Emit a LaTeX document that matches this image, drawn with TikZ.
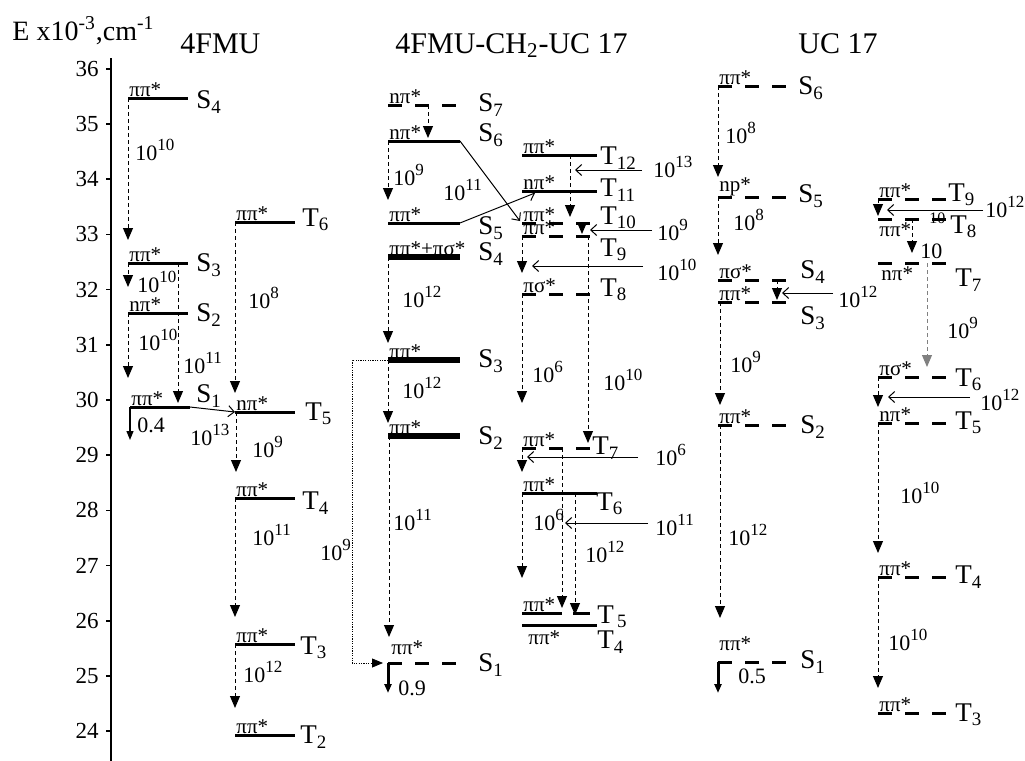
\documentclass[tikz,border=0pt]{standalone}
\usepackage{fontspec}
\setmainfont{Liberation Serif}
\usetikzlibrary{arrows.meta}
\newcommand{\rate}[1]{10\raisebox{0.9ex}{\fontsize{8.5}{10}\selectfont #1}}
\newcommand{\Sst}[1]{S\textsubscript{#1}}
\newcommand{\Tst}[1]{T\textsubscript{#1}}
% level: [style]{name}{x left}{x right}{y}{orbital}
\newcommand{\lvl}[6][lev]{%
  \coordinate (#2) at (#3,#5);
  \coordinate (#2r) at (#4,#5);
  \draw[#1] (#2) -- (#2r);
  \node[orb] (#2o) at (#2) {#6};}

\begin{document}
\begin{tikzpicture}[x=0.5pt,y=-0.5pt,
lev/.style={line width=1.5pt},
bold lev/.style={line width=2.8pt},
dlev/.style={line width=1.5pt,dash pattern=on 7pt off 6.5pt},
dec/.style={line width=0.5pt,dash pattern=on 2pt off 1.5pt,-{Triangle[length=6pt,width=5pt]}},
isc/.style={line width=0.5pt,-{Straight Barb[length=3pt,width=5.5pt]}},
qy/.style={-{Triangle[length=4.5pt,width=3.5pt]}},
dotl/.style={line width=0.4pt,dash pattern=on 0.6pt off 0.6pt,-{Triangle[length=5.5pt,width=4.5pt]},shorten >=2.5pt},
orb/.style={font=\fontsize{10.5}{12}\selectfont,inner sep=0.5pt,anchor=south west},
st/.style={font=\fontsize{13.5}{15}\selectfont,inner sep=0pt,anchor=west},
rt/.style={font=\fontsize{11}{12}\selectfont,inner sep=0pt,anchor=base west},
ttl/.style={font=\fontsize{15}{18}\selectfont,inner sep=0pt,anchor=base west}]
\useasboundingbox (0,0) rectangle (1025,761);

% energy axis
\coordinate (axtop) at (111,58);
\coordinate (axbot) at (111,761);
\draw[line width=0.8pt] (axtop) -- (axbot);
\foreach \e in {24,...,36}{
  \coordinate (tk\e) at (111,{400-55.2*(\e-30)});
  \draw[line width=0.8pt] (tk\e) -- ++(-5,0);
  \node[anchor=east,inner sep=0pt,font=\fontsize{11.5}{13}\selectfont] (n\e) at ([xshift=-6pt]tk\e) {\e};
}
\node[ttl,font=\fontsize{14}{16}\selectfont] (eunit) at (12,40) {E x10\textsuperscript{-3},cm\textsuperscript{-1}};
\node[ttl] (t1) at (180,53) {4FMU};
\node[ttl] (t2) at (395,53) {4FMU-CH\textsubscript{2}-UC 17};
\node[ttl] (t3) at (798,53) {UC 17};

% 4FMU
\lvl{aS4}{128}{188}{98}{ππ*}
\lvl{aS3}{128}{188}{263}{ππ*}
\lvl{aS2}{128}{188}{313}{nπ*}
\lvl{aS1}{130}{190}{407}{ππ*}
\lvl{aT6}{235}{295}{222}{ππ*}
\lvl{aT5}{235}{295}{412}{nπ*}
\lvl{aT4}{235}{295}{498}{ππ*}
\lvl{aT3}{235}{295}{644}{ππ*}
\lvl{aT2}{235}{295}{735}{ππ*}
\node[st] (laS4) at (196,102) {\Sst{4}};
\node[st] (laS3) at (196,265) {\Sst{3}};
\node[st] (laS2) at (196,315) {\Sst{2}};
\node[st] (laS1) at (196,396) {\Sst{1}};
\node[st] (laT6) at (302,220) {\Tst{6}};
\node[st] (laT5) at (305,414) {\Tst{5}};
\node[st] (laT4) at (302,503) {\Tst{4}};
\node[st] (laT3) at (300,648) {\Tst{3}};
\node[st] (laT2) at (300,737) {\Tst{2}};
\coordinate (k1) at (128,240);
\coordinate (k2) at (128,287);
\coordinate (k3) at (178,403);
\coordinate (k4) at (128,378);
\coordinate (k5) at (130,440);
\coordinate (k6) at (235,393);
\coordinate (k7) at (236,472);
\coordinate (k8) at (235,617);
\coordinate (k9) at (235,708);
\draw[dec] (aS4) -- (k1);
\draw[dec] (aS3) -- (k2);
\draw[dec] (aS3 -| k3) -- (k3);
\draw[dec] (aS2) -- (k4);
\draw[qy,line width=0.6pt] (aS1) -- (k5);
\draw[isc] (aS1r) -- (aT5);
\draw[dec] (aT6) -- (k6);
\draw[dec] (aT5 -| k7) -- (k7);
\draw[dec] (aT4) -- (k8);
\draw[dec] (aT3) -- (k9);
\node[rt] (r1) at (135,160) {\rate{10}};
\node[rt] (r2) at (137,292) {\rate{10}};
\node[rt] (r3) at (183,373) {\rate{11}};
\node[rt] (r4) at (138,350) {\rate{10}};
\node[rt] (r5) at (137,432) {0.4};
\node[rt] (r6) at (190,445) {\rate{13}};
\node[rt] (r7) at (248,308) {\rate{8}};
\node[rt] (r8) at (252,457) {\rate{9}};
\node[rt] (r9) at (252,545) {\rate{11}};
\node[rt] (r10) at (243,682) {\rate{12}};
\node[rt] (r11) at (320,560) {\rate{9}};

% 4FMU-CH2-UC 17
\lvl[dlev]{bS7}{388}{457}{105}{nπ*}
\lvl{bS6}{388}{460}{141}{nπ*}
\lvl{bS5}{388}{460}{223}{ππ*}
\lvl[bold lev]{bS4}{388}{460}{257}{ππ*+πσ*}
\lvl[bold lev]{bS3}{388}{460}{360}{ππ*}
\lvl[bold lev]{bS2}{388}{460}{436}{ππ*}
\lvl[dlev]{bS1}{388}{457}{663}{}
\lvl{bT12}{522}{597}{155}{ππ*}
\lvl{bT11}{522}{597}{191}{nπ*}
\lvl[dlev]{bT10}{522}{592}{223}{ππ*}
\lvl[dlev]{bT9}{522}{592}{236}{ππ*}
\lvl[dlev]{bT8}{522}{590}{294}{πσ*}
\lvl[dlev]{bT7}{522}{592}{448}{ππ*}
\lvl{bT6}{522}{597}{493}{ππ*}
\lvl[lev,dash pattern=on 20pt off 5.5pt on 8.5pt off 10pt]{bT5}{522}{590}{613}{ππ*}
\lvl{bT4}{522}{597}{625}{}
\node[orb] (bS1o2) at (390,656) {ππ*};
\node[orb,anchor=north west] (bT4o2) at (527,629) {ππ*};
\node[st] (lbS7) at (478,105) {\Sst{7}};
\node[st] (lbS6) at (478,135) {\Sst{6}};
\node[st] (lbS5) at (478,228) {\Sst{5}};
\node[st] (lbS4) at (478,254) {\Sst{4}};
\node[st] (lbS3) at (478,361) {\Sst{3}};
\node[st] (lbS2) at (478,438) {\Sst{2}};
\node[st] (lbS1) at (478,665) {\Sst{1}};
\node[st] (lbT12) at (600,158) {\Tst{12}};
\node[st] (lbT11) at (600,190) {\Tst{11}};
\node[st] (lbT10) at (600,218) {\Tst{10}};
\node[st] (lbT9) at (600,250) {\Tst{9}};
\node[st] (lbT8) at (600,290) {\Tst{8}};
\node[st] (lbT7) at (592,448) {\Tst{7}};
\node[st] (lbT6) at (596,504) {\Tst{6}};
\node[st] (lbT5) at (597,617) {T\textsubscript{\,5}};
\node[st] (lbT4) at (597,642) {\Tst{4}};
\coordinate (k10) at (428,138);
\coordinate (k11) at (388,200);
\coordinate (k12) at (388,343);
\coordinate (k13) at (388,423);
\coordinate (k14) at (389,637);
\coordinate (k15) at (388,693);
\coordinate (k16) at (570,217);
\coordinate (k17) at (582,234);
\coordinate (k18) at (522,273);
\coordinate (k19) at (588,443);
\coordinate (k20) at (522,403);
\coordinate (k21) at (522,472);
\coordinate (k22) at (562,608);
\coordinate (k23) at (522,578);
\coordinate (k24) at (575,615);
\coordinate (m1) at (520,221);
\coordinate (m2) at (535,193);
\coordinate (dt) at (352,360);
\draw[dec] (bS7 -| k10) -- (k10);
\draw[dec] (bS6) -- (k11);
\draw[isc] (bS6r) -- (m1);
\draw[isc] (bS5r) -- (m2);
\draw[dec] (bS4) -- (k12);
\draw[dec] (bS3) -- (k13);
\draw[dec] (bS2 -| k14) -- (k14);
\draw[dotl] (bS3) -- (dt) |- (bS1);
\draw[qy,line width=1.5pt] (bS1) -- (k15);
\draw[dec] (bT12 -| k16) -- (k16);
\draw[dec] (bT10 -| k17) -- (k17);
\draw[dec] (bT9) -- (k18);
\draw[dec] (bT9 -| k19) -- (k19);
\draw[dec] (bT8) -- (k20);
\draw[dec] (bT7) -- (k21);
\draw[dec] (bT7 -| k22) -- (k22);
\draw[dec] (bT6) -- (k23);
\draw[dec] (bT6 -| k24) -- (k24);
\coordinate (h1) at (642,170);
\coordinate (h1e) at (575,170);
\coordinate (h2) at (652,230);
\coordinate (h2e) at (590,230);
\coordinate (h3) at (643,266);
\coordinate (h3e) at (532,266);
\coordinate (h4) at (638,457);
\coordinate (h4e) at (527,457);
\coordinate (h5) at (648,523);
\coordinate (h5e) at (565,523);
\draw[isc] (h1) -- (h1e);
\draw[isc] (h2) -- (h2e);
\draw[isc] (h3) -- (h3e);
\draw[isc] (h4) -- (h4e);
\draw[isc] (h5) -- (h5e);
\node[rt] (r12) at (393,185) {\rate{9}};
\node[rt] (r13) at (443,200) {\rate{11}};
\node[rt] (r14) at (402,307) {\rate{12}};
\node[rt] (r15) at (402,398) {\rate{12}};
\node[rt] (r16) at (393,530) {\rate{11}};
\node[rt] (r17) at (398,695) {0.9};
\node[rt] (r18) at (653,177) {\rate{13}};
\node[rt] (r19) at (657,240) {\rate{9}};
\node[rt] (r20) at (657,280) {\rate{10}};
\node[rt] (r21) at (603,390) {\rate{10}};
\node[rt] (r22) at (532,382) {\rate{6}};
\node[rt] (r23) at (655,465) {\rate{6}};
\node[rt] (r24) at (533,530) {\rate{6}};
\node[rt] (r25) at (585,562) {\rate{12}};
\node[rt] (r26) at (655,535) {\rate{11}};

% UC 17
\lvl[dlev]{cS6}{718}{787}{86}{ππ*}
\lvl[dlev]{cS5}{718}{787}{197}{np*}
\lvl[dlev]{cS4}{718}{787}{280}{πσ*}
\lvl[dlev]{cS3}{718}{787}{302}{ππ*}
\lvl[dlev]{cS2}{718}{787}{425}{ππ*}
\lvl[dlev]{cS1}{718}{787}{662}{}
\lvl[dlev]{cT9}{878}{948}{199}{ππ*}
\lvl[dlev]{cT8}{878}{948}{219}{}
\lvl[dlev]{cT7}{878}{948}{263}{}
\lvl[dlev]{cT6}{878}{948}{377}{πσ*}
\lvl[dlev]{cT5}{878}{948}{423}{nπ*}
\lvl[dlev]{cT4}{878}{948}{577}{ππ*}
\lvl[dlev]{cT3}{878}{948}{713}{ππ*}
\node[orb] (cS1o2) at (718,652) {ππ*};
\node[orb,anchor=north west] (cT8o2) at (878,221) {ππ*};
\node[orb,anchor=north west] (cT7o2) at (880,265) {nπ*};
\node[st] (lcS6) at (798,88) {\Sst{6}};
\node[st] (lcS5) at (798,196) {\Sst{5}};
\node[st] (lcS4) at (800,272) {\Sst{4}};
\node[st] (lcS3) at (800,318) {\Sst{3}};
\node[st] (lcS2) at (800,427) {\Sst{2}};
\node[st] (lcS1) at (800,662) {\Sst{1}};
\node[st] (lcT9) at (948,195) {\Tst{9}};
\node[st] (lcT8) at (950,227) {\Tst{8}};
\node[st] (lcT7) at (955,280) {\Tst{7}};
\node[st] (lcT6) at (955,380) {\Tst{6}};
\node[st] (lcT5) at (955,423) {\Tst{5}};
\node[st] (lcT4) at (955,577) {\Tst{4}};
\node[st] (lcT3) at (955,715) {\Tst{3}};
\coordinate (k25) at (718,177);
\coordinate (k26) at (718,255);
\coordinate (k27) at (777,300);
\coordinate (k28) at (720,405);
\coordinate (k29) at (720,618);
\coordinate (k30) at (718,693);
\coordinate (k31) at (878,216);
\coordinate (k32) at (912,253);
\coordinate (k33) at (927,367);
\coordinate (k34) at (878,407);
\coordinate (k35) at (878,553);
\coordinate (k36) at (878,688);
\draw[dec] (cS6) -- (k25);
\draw[dec] (cS5) -- (k26);
\draw[dec] (cS4 -| k27) -- (k27);
\draw[dec] (cS3 -| k28) -- (k28);
\draw[dec] (cS2 -| k29) -- (k29);
\draw[qy,line width=1.5pt] (cS1) -- (k30);
\draw[dec] (cT9) -- (k31);
\draw[dec] (cT8 -| k32) -- (k32);
\draw[dec,gray] (cT7 -| k33) -- (k33);
\draw[dec] (cT6) -- (k34);
\draw[dec] (cT5) -- (k35);
\draw[dec] (cT4) -- (k36);
\coordinate (h6) at (833,293);
\coordinate (h6e) at (782,293);
\coordinate (h7) at (983,210);
\coordinate (h7e) at (887,210);
\coordinate (h8) at (970,397);
\coordinate (h8e) at (888,397);
\draw[isc] (h6) -- (h6e);
\draw[isc] (h7) -- (h7e);
\draw[isc] (h8) -- (h8e);
\node[rt] (r27) at (725,143) {\rate{8}};
\node[rt] (r28) at (733,230) {\rate{8}};
\node[rt] (r29) at (838,307) {\rate{12}};
\node[rt] (r30) at (730,372) {\rate{9}};
\node[rt] (r31) at (728,545) {\rate{12}};
\node[rt] (r32) at (738,683) {0.5};
\node[rt] (r33) at (985,217) {\rate{12}};
\node[rt] (r34) at (920,258) {10};
\node[rt,font=\fontsize{8}{9}\selectfont] (r35) at (929,223) {10};
\node[rt] (r36) at (947,338) {\rate{9}};
\node[rt] (r37) at (980,410) {\rate{12}};
\node[rt] (r38) at (900,503) {\rate{10}};
\node[rt] (r39) at (888,650) {\rate{10}};
\end{tikzpicture}
\end{document}
